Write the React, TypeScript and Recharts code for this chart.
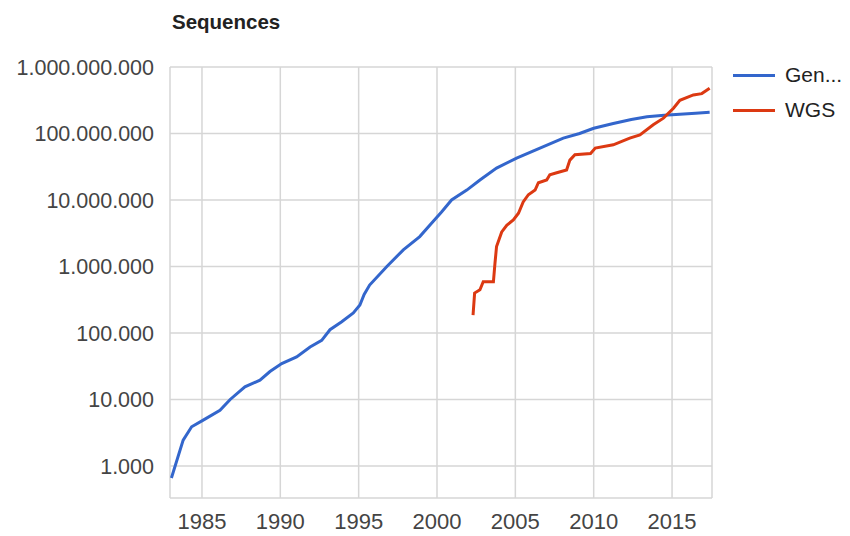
import React from 'react';
import { LineChart, Line, XAxis, YAxis, CartesianGrid } from 'recharts';

// GenBank sequences (year, count)
const genYears = [
  1983.05, 1983.8, 1984.34, 1985.08, 1986.15, 1986.8, 1987.74, 1988.7, 1989.34, 1990.09,
  1991.04, 1991.9, 1992.64, 1993.17, 1993.92, 1994.66, 1995.08, 1995.35, 1995.7, 1996.8,
  1997.85, 1998.9, 1999.65, 2000.29, 2000.93, 2001.9, 2002.74, 2003.8, 2005.08, 2006.57,
  2008.06, 2009.1, 2010.0, 2011.25, 2012.4, 2013.4, 2014.5, 2015.5, 2016.5, 2017.4
];
const genValues = [
  660, 2450, 3890, 4900, 6900, 10000, 15500, 19500, 26300, 34700,
  43600, 61700, 77600, 112000, 148000, 200000, 263000, 380000, 525000, 1000000,
  1780000, 2820000, 4470000, 6610000, 10000000, 14100000, 20000000, 30200000, 42700000, 60300000,
  85100000, 100000000, 120000000, 141000000, 162000000, 178000000, 188000000, 195000000, 202000000, 209000000
];

// WGS sequences (year, count)
const wgsYears = [
  2002.3, 2002.4, 2002.74, 2002.95, 2003.6, 2003.7, 2003.8, 2004.13, 2004.45, 2004.87,
  2005.2, 2005.5, 2005.83, 2006.26, 2006.47, 2007.0, 2007.2, 2007.64, 2008.27, 2008.48,
  2008.8, 2009.8, 2010.1, 2011.25, 2012.3, 2012.95, 2013.8, 2014.45, 2015.09, 2015.5,
  2016.36, 2016.9, 2017.4
];
const wgsValues = [
  186000, 398000, 447000, 589000, 589000, 1120000, 2000000, 3310000, 4170000, 5010000,
  6310000, 9330000, 12000000, 14100000, 18200000, 20000000, 24000000, 25700000, 28200000, 39800000,
  47900000, 50100000, 60300000, 67600000, 85100000, 95500000, 135000000, 170000000, 240000000, 316000000,
  380000000, 398000000, 479000000
];

const xTicks = [1985, 1990, 1995, 2000, 2005, 2010, 2015];
const yTicks = [1e3, 1e4, 1e5, 1e6, 1e7, 1e8, 1e9];

const seriesNames = ['Gen...', 'WGS'];
const COLORS = ['#3366CC', '#DC3912'];

const genData = genYears.map((year, i) => ({ year, value: genValues[i] }));
const wgsData = wgsYears.map((year, i) => ({ year, value: wgsValues[i] }));

const FONT = '"Liberation Sans", Arial, sans-serif';

const formatDots = (v: number) => Math.round(v).toString().replace(/\B(?=(\d{3})+(?!\d))/g, '.');

export default function App() {
  return (
    <div style={{ position: 'absolute', left: 0, top: 0, width: 850, height: 536, background: '#fff', fontFamily: FONT }}>
      <div style={{ position: 'absolute', left: 172, top: 10, fontSize: 20.5, fontWeight: 'bold', color: '#222' }}>
        Sequences
      </div>
      <LineChart
        width={850}
        height={536}
        margin={{ top: 67, right: 138, bottom: 0, left: 0 }}
      >
        <CartesianGrid stroke="#d6d6d6" strokeWidth={1.5} />
        <XAxis
          type="number"
          dataKey="year"
          domain={[1982.96, 2017.55]}
          ticks={xTicks}
          allowDataOverflow
          axisLine={false}
          tickLine={false}
          tickSize={0}
          tickMargin={15}
          height={38}
          tick={{ fill: '#444', fontSize: 22, fontFamily: FONT }}
        />
        <YAxis
          type="number"
          scale="log"
          domain={[330, 1e9]}
          ticks={yTicks}
          allowDataOverflow
          axisLine={false}
          tickLine={false}
          tickSize={0}
          tickMargin={16}
          width={170}
          tickFormatter={formatDots}
          tick={{ fill: '#444', fontSize: 21.5, fontFamily: FONT }}
        />
        <Line
          data={genData}
          dataKey="value"
          name={seriesNames[0]}
          type="linear"
          stroke={COLORS[0]}
          strokeWidth={3}
          dot={false}
          isAnimationActive={false}
        />
        <Line
          data={wgsData}
          dataKey="value"
          name={seriesNames[1]}
          type="linear"
          stroke={COLORS[1]}
          strokeWidth={3}
          dot={false}
          isAnimationActive={false}
        />
      </LineChart>
      {seriesNames.map((name, i) => (
        <div
          key={name}
          style={{ position: 'absolute', left: 733, top: 62 + i * 35, height: 26, display: 'flex', alignItems: 'center' }}
        >
          <div style={{ width: 42, height: 3, background: COLORS[i], marginRight: 10 }} />
          <span style={{ fontSize: 21, color: '#222' }}>{name}</span>
        </div>
      ))}
    </div>
  );
}
